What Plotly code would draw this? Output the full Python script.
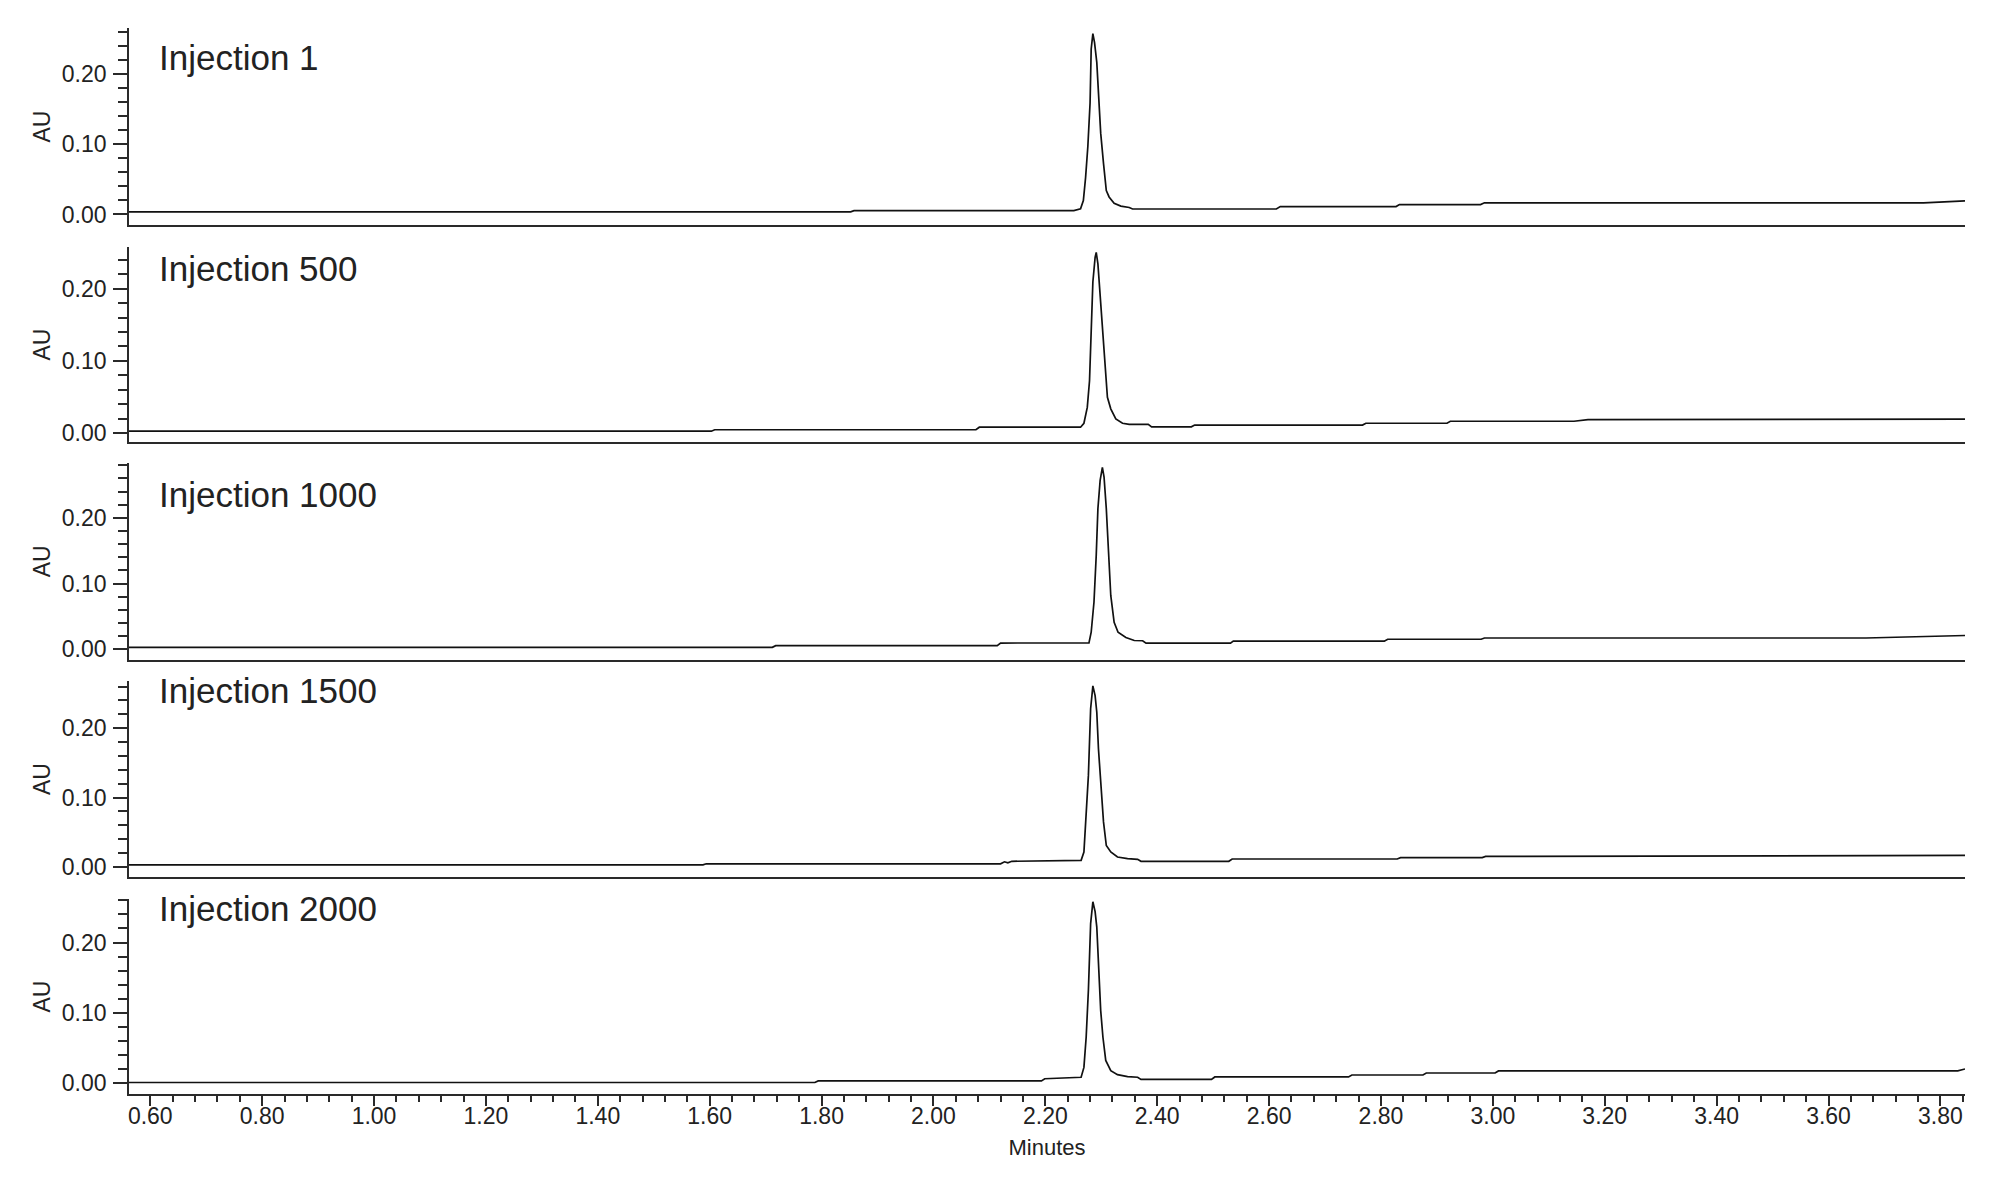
import plotly.graph_objects as go
from plotly.subplots import make_subplots

labels = ["Injection 1", "Injection 500", "Injection 1000", "Injection 1500", "Injection 2000"]

# retention time (min) and absorbance (AU)
t_inj1 = [0.562, 1.852, 1.858, 2.251, 2.263, 2.268, 2.272, 2.276, 2.280, 2.282, 2.285,
          2.288, 2.292, 2.295, 2.299, 2.304, 2.309, 2.314, 2.323, 2.335, 2.350, 2.356,
          2.613, 2.620, 2.827, 2.833, 2.978, 2.985, 3.770, 3.844]
au_inj1 = [0.0037, 0.0037, 0.0055, 0.0055, 0.008, 0.020, 0.053, 0.097, 0.159, 0.236, 0.258,
           0.245, 0.217, 0.164, 0.116, 0.073, 0.034, 0.025, 0.016, 0.012, 0.010, 0.0078,
           0.0078, 0.0113, 0.0113, 0.0142, 0.0142, 0.0167, 0.0167, 0.0195]

t_inj2 = [0.562, 1.603, 1.609, 2.076, 2.082, 2.263, 2.269, 2.275, 2.279, 2.283, 2.285,
          2.289, 2.291, 2.294, 2.298, 2.302, 2.306, 2.311, 2.317, 2.326, 2.338, 2.350,
          2.384, 2.390, 2.461, 2.467, 2.767, 2.773, 2.918, 2.924, 3.145, 3.170, 3.844]
au_inj2 = [0.0025, 0.0025, 0.0045, 0.0045, 0.008, 0.008, 0.0135, 0.0355, 0.0725, 0.1495, 0.2095,
           0.2435, 0.2505, 0.2345, 0.1905, 0.1365, 0.0905, 0.0495, 0.0335, 0.0195, 0.0135, 0.012,
           0.012, 0.0085, 0.0085, 0.011, 0.011, 0.0135, 0.0135, 0.0163, 0.0163, 0.0185, 0.0192]

t_inj3 = [0.562, 1.712, 1.718, 2.114, 2.120, 2.278, 2.282, 2.287, 2.291, 2.294, 2.298,
          2.302, 2.305, 2.309, 2.313, 2.317, 2.323, 2.330, 2.344, 2.359, 2.374, 2.380,
          2.531, 2.536, 2.806, 2.812, 2.979, 2.985, 3.667, 3.844]
au_inj3 = [0.003, 0.003, 0.0055, 0.0055, 0.0095, 0.0099, 0.026, 0.072, 0.143, 0.214, 0.257,
           0.277, 0.262, 0.214, 0.148, 0.082, 0.041, 0.026, 0.018, 0.0134, 0.013, 0.0093,
           0.0093, 0.0124, 0.0124, 0.0153, 0.0153, 0.0172, 0.0172, 0.021]

t_inj4 = [0.562, 1.588, 1.594, 2.120, 2.127, 2.133, 2.140, 2.264, 2.269, 2.273, 2.277,
          2.281, 2.285, 2.289, 2.292, 2.295, 2.300, 2.304, 2.309, 2.317, 2.329, 2.347,
          2.365, 2.371, 2.528, 2.534, 2.829, 2.835, 2.981, 2.987, 3.844]
au_inj4 = [0.003, 0.003, 0.0046, 0.0046, 0.0075, 0.006, 0.0082, 0.0096, 0.0216, 0.070, 0.132,
           0.228, 0.261, 0.247, 0.223, 0.170, 0.108, 0.065, 0.031, 0.0216, 0.0144, 0.012,
           0.011, 0.0082, 0.0082, 0.0115, 0.0115, 0.0135, 0.0135, 0.0152, 0.0168]

t_inj5 = [0.562, 1.788, 1.794, 2.193, 2.199, 2.264, 2.269, 2.273, 2.277, 2.281, 2.285,
          2.289, 2.292, 2.295, 2.299, 2.303, 2.308, 2.317, 2.329, 2.347, 2.365, 2.371,
          2.497, 2.503, 2.742, 2.748, 2.875, 2.881, 3.004, 3.010, 3.831, 3.844]
au_inj5 = [0.0005, 0.0005, 0.0027, 0.0027, 0.0058, 0.008, 0.022, 0.065, 0.132, 0.227, 0.258,
           0.244, 0.222, 0.170, 0.103, 0.065, 0.032, 0.0174, 0.0117, 0.0088, 0.008, 0.0048,
           0.0048, 0.0084, 0.0084, 0.0112, 0.0112, 0.014, 0.014, 0.017, 0.017, 0.0198]

series = [(t_inj1, au_inj1), (t_inj2, au_inj2), (t_inj3, au_inj3),
          (t_inj4, au_inj4), (t_inj5, au_inj5)]

# per panel y ranges (AU)
y_ranges = [[-0.0150, 0.2660], [-0.0125, 0.2580], [-0.0155, 0.2835],
            [-0.0144, 0.2680], [-0.0159, 0.2620]]

# page has an 8px body margin, so the figure is a bit smaller than the window
OFF = 8
W, H = 2000 - OFF, 1183 - OFF
M_L, M_R, M_T = 129 - OFF, 35, 28 - OFF
PLOT_BOTTOM = 1094  # page pixel of the lowest x axis
M_B = H - (PLOT_BOTTOM - OFF)
plot_h = H - M_T - M_B
# panel top / bottom in page pixels
panel_px = [(28, 225), (247, 442), (463, 659.5), (681, 877), (899, 1094)]
label_px = [57.5, 268, 494, 690, 908.5]

FONT = "Liberation Sans, Arial, Helvetica, sans-serif"
INK = "#222222"
AXC = "#2a2a2a"
TICK_SIZE = 23


def to_paper(py):
    return (PLOT_BOTTOM - py) / plot_h


fig = make_subplots(rows=5, cols=1, shared_xaxes=True, vertical_spacing=0.02)

for i, (t, au) in enumerate(series):
    fig.add_trace(go.Scatter(x=t, y=au, mode="lines",
                             line=dict(color="#111111", width=1.7),
                             showlegend=False, hoverinfo="skip"),
                  row=i + 1, col=1)

    top, bot = panel_px[i]
    fig.update_yaxes(row=i + 1, col=1,
                     domain=[to_paper(bot), to_paper(top)],
                     range=y_ranges[i],
                     showline=True, linecolor=AXC, linewidth=1.8,
                     showgrid=False, zeroline=False,
                     ticks="outside", ticklen=14, tickwidth=1.5, tickcolor=AXC,
                     tick0=0, dtick=0.1, tickformat=".2f",
                     ticklabelstandoff=2,
                     tickfont=dict(family=FONT, size=TICK_SIZE, color=INK),
                     minor=dict(ticks="outside", dtick=0.02, ticklen=9,
                                tickwidth=1.5, tickcolor=AXC, showgrid=False),
                     title=dict(text="AU", standoff=5,
                                font=dict(family=FONT, size=23, color=INK)))

    last = i == 4
    fig.update_xaxes(row=i + 1, col=1,
                     range=[0.562, 3.844],
                     showline=True, linecolor=AXC, linewidth=1.8,
                     showgrid=False, zeroline=False,
                     ticks="outside" if last else "",
                     showticklabels=last,
                     ticklen=10, tickwidth=1.5, tickcolor=AXC,
                     tick0=0, dtick=0.2, tickformat=".2f",
                     tickfont=dict(family=FONT, size=TICK_SIZE, color=INK),
                     minor=dict(ticks="outside" if last else "", dtick=0.04,
                                ticklen=6, tickwidth=1.5, tickcolor=AXC,
                                showgrid=False))

    fig.add_annotation(text=labels[i], xref="paper", yref="paper",
                       x=(157 - 129) / (W - M_L - M_R), y=to_paper(label_px[i]),
                       xanchor="left", yanchor="middle", showarrow=False,
                       font=dict(family=FONT, size=35, color=INK))

fig.update_xaxes(row=5, col=1, ticklabelstandoff=-10,
                 title=dict(text="Minutes", standoff=12,
                            font=dict(family=FONT, size=22, color=INK)))

fig.update_layout(width=W, height=H,
                  margin=dict(l=M_L, r=M_R, t=M_T, b=M_B),
                  plot_bgcolor="white", paper_bgcolor="white",
                  font=dict(family=FONT, color=INK))

fig.write_html("out.html")
